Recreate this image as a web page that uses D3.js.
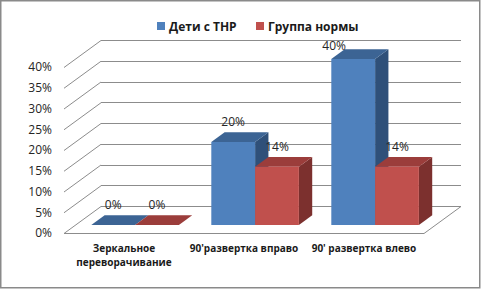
<!DOCTYPE html>
<html>
<head>
<meta charset="utf-8">
<script src="https://cdn.jsdelivr.net/npm/d3@7"></script>
<style>
  body { margin: 0; background: #fff; }
  svg { display: block; font-family: "Open Sans", "DejaVu Sans", sans-serif; }
</style>
</head>
<body>
<div id="chart"></div>
<script>
const categories = ["Зеркальное переворачивание", "90'развертка вправо", "90' развертка влево"];
const seriesNames = ["Дети с ТНР", "Группа нормы"];
const thnr = [0, 20, 40];
const norma = [0, 14, 14];
const yTicks = [0, 5, 10, 15, 20, 25, 30, 35, 40];

const colors = {
    front: ["#4f81bd", "#c0504d"],
    top: ["#3c6494", "#9b3d3b"],
    side: ["#2f5079", "#7c302e"]
};

const W = 481, H = 289;
// depth of the 3d box (full wall-to-front offset)
const DX = 37, DY = 27;
const d0 = 0.3, d1 = 0.66;

const svg = d3.select("#chart").append("svg")
    .attr("width", W)
    .attr("height", H);

svg.append("rect")
    .attr("x", 0.75).attr("y", 0.75)
    .attr("width", 479).attr("height", 287)
    .attr("fill", "#fff")
    .attr("stroke", "#8a8a8a")
    .attr("stroke-width", 1.5);

const x = d3.scaleBand().domain(categories).range([64, 424]);
const xs = d3.scaleBand().domain(seriesNames).range([0, x.bandwidth()]).paddingOuter(0.37);
const y = d3.scaleLinear().domain([0, 40]).range([233, 67]);

// project a front-plane point into depth d (0 = front, 1 = back wall)
const P = (px, v, d) => [px + d * DX, y(v) - d * DY];
const poly = pts => pts.map(p => p.join(",")).join(" ");

const grid = svg.append("g").attr("stroke", "#8c8c8c").attr("stroke-width", 1).attr("fill", "none");

yTicks.forEach(t => {
    const a = P(x.range()[0], t, 0), b = P(x.range()[0], t, 1), c = P(x.range()[1], t, 1);
    grid.append("line")
        .attr("x1", b[0]).attr("y1", Math.round(b[1]) + 0.5)
        .attr("x2", c[0]).attr("y2", Math.round(c[1]) + 0.5);
    grid.append("line")
        .attr("x1", a[0]).attr("y1", a[1] + 0.5)
        .attr("x2", b[0]).attr("y2", b[1] + 0.5);
});

// floor
const f1 = P(x.range()[0], 0, 0), f2 = P(x.range()[1], 0, 0), f3 = P(x.range()[1], 0, 1);
grid.append("polyline")
    .attr("points", poly([f1, f2, f3].map(p => [p[0], p[1] + 0.5])));

// y tick labels
svg.append("g")
    .selectAll("text")
    .data(yTicks)
    .enter()
    .append("text")
    .attr("x", 52)
    .attr("y", d => y(d))
    .attr("dy", "0.36em")
    .attr("text-anchor", "end")
    .style("font-size", "12px")
    .style("fill", "#262626")
    .text(d => d + "%");

// bars
const bars = [];
categories.forEach((c, i) => {
    [thnr[i], norma[i]].forEach((v, s) => {
        bars.push({ cat: c, s: s, v: v, x0: x(c) + xs(seriesNames[s]), x1: x(c) + xs(seriesNames[s]) + xs.bandwidth() });
    });
});

const bg = svg.append("g");
bars.forEach(b => {
    const g = bg.append("g");
    g.append("polygon")
        .attr("points", poly([P(b.x1, 0, d0), P(b.x1, 0, d1), P(b.x1, b.v, d1), P(b.x1, b.v, d0)]))
        .attr("fill", colors.side[b.s]);
    g.append("polygon")
        .attr("points", poly([P(b.x0, b.v, d0), P(b.x1, b.v, d0), P(b.x1, b.v, d1), P(b.x0, b.v, d1)]))
        .attr("fill", colors.top[b.s]);
    g.append("polygon")
        .attr("points", poly([P(b.x0, 0, d0), P(b.x1, 0, d0), P(b.x1, b.v, d0), P(b.x0, b.v, d0)]))
        .attr("fill", colors.front[b.s]);
});

// value labels (Excel nudges the top one inside the plot area)
svg.append("g")
    .selectAll("text")
    .data(bars)
    .enter()
    .append("text")
    .attr("x", d => {
        const cx = (d.x0 + d.x1) / 2 + d0 * DX;
        return P(0, d.v, d0)[1] - 16 < 50 ? cx - 19 : cx;
    })
    .attr("y", d => Math.max(P(0, d.v, d0)[1] - 16, 50))
    .attr("text-anchor", "middle")
    .style("font-size", "12px")
    .style("fill", "#262626")
    .text(d => d.v + "%");

// category labels
const catG = svg.append("g");
categories.forEach(c => {
    const t = catG.append("text")
        .attr("x", x(c) + x.bandwidth() / 2)
        .attr("y", 252)
        .attr("text-anchor", "middle")
        .style("font-size", "10px")
        .style("font-weight", "bold")
        .style("fill", "#1a1a1a");
    const words = c.split(" ");
    if (words.length === 2 && !c.startsWith("90")) {
        words.forEach((w, k) => t.append("tspan").attr("x", x(c) + x.bandwidth() / 2).attr("dy", k ? 14 : 0).text(w));
    } else {
        t.text(c);
    }
});

// legend
const legend = svg.append("g");
let lx = 157;
seriesNames.forEach((n, i) => {
    legend.append("rect")
        .attr("x", lx).attr("y", 22)
        .attr("width", 8).attr("height", 8)
        .attr("fill", colors.front[i]);
    legend.append("text")
        .attr("x", lx + 12).attr("y", 30.5)
        .style("font-size", "12px")
        .style("font-weight", "bold")
        .style("fill", "#1a1a1a")
        .text(n);
    lx = 256;
});
</script>
</body>
</html>
